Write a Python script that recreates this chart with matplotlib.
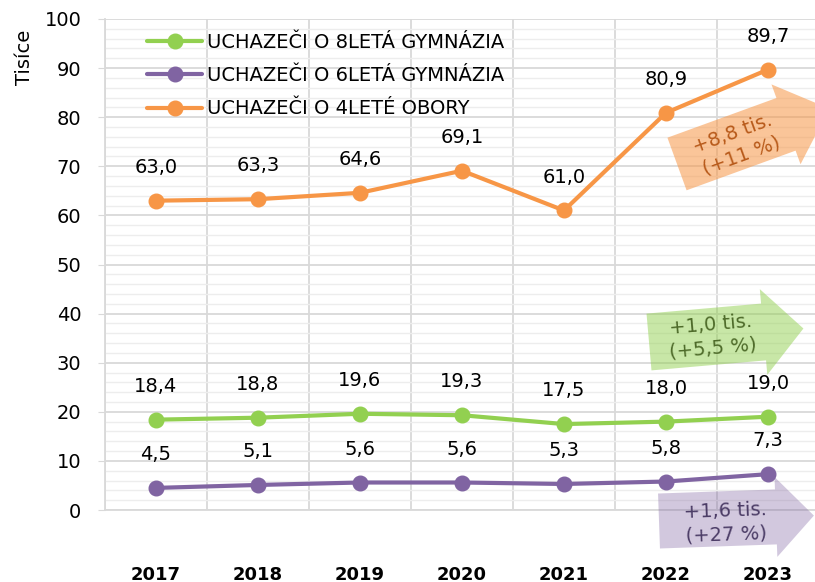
import numpy as np
import matplotlib
matplotlib.use("Agg")
import matplotlib.pyplot as plt
from matplotlib.patches import Polygon

# data (thousands of applicants)
years = ["2017", "2018", "2019", "2020", "2021", "2022", "2023"]
gym8 = [18.4, 18.8, 19.6, 19.3, 17.5, 18.0, 19.0]
gym6 = [4.5, 5.1, 5.6, 5.6, 5.3, 5.8, 7.3]
obory4 = [63.0, 63.3, 64.6, 69.1, 61.0, 80.9, 89.7]
series_names = ["UCHAZEČI O 8LETÁ GYMNÁZIA", "UCHAZEČI O 6LETÁ GYMNÁZIA", "UCHAZEČI O 4LETÉ OBORY"]
arrow_texts = ["+8,8 tis.\n(+11 %)", "+1,0 tis.\n(+5,5 %)", "+1,6 tis.\n(+27 %)"]

W, H = 815, 582
plt.rcParams['font.family'] = ['DejaVu Sans']
fig = plt.figure(figsize=(W / 100, H / 100), dpi=100)
ax = fig.add_axes([105 / W, 1 - 510 / H, 714 / W, 491 / H])

x = np.arange(len(years))
colors = ["#92D050", "#8064A2", "#F79646"]
for vals, c, name in zip([gym8, gym6, obory4], colors, series_names):
    ax.plot(x, vals, color=c, lw=3, marker="o", ms=10.5, label=name, zorder=3,
            solid_capstyle="round")
    for xi, v in zip(x, vals):
        ax.annotate(f"{v:.1f}".replace(".", ","), (xi, v), xytext=(0, 24),
                    textcoords="offset points", ha="center", va="center",
                    fontsize=14, color="black", zorder=4)

ax.set_xlim(-0.5, len(years) - 0.5)
ax.set_ylim(0, 100)
ax.set_yticks(range(0, 101, 10))
ax.set_yticks(range(0, 101, 2), minor=True)
ax.set_xticks(x)
ax.set_xticklabels(years, fontweight="bold", fontsize=13)
ax.set_xticks(np.arange(-0.5, len(years), 1), minor=True)
ax.tick_params(axis="x", which="both", length=0, pad=40)
ax.tick_params(axis="y", which="major", length=5, color="#D9D9D9", pad=12, labelsize=14)
ax.tick_params(axis="y", which="minor", length=0)
ax.grid(True, axis="y", which="major", color="#D9D9D9", lw=1.3, zorder=0)
ax.grid(True, axis="y", which="minor", color="#EDEDED", lw=1.0, zorder=0)
ax.grid(True, axis="x", which="minor", color="#D9D9D9", lw=1.3, zorder=0)
for s in ["top", "right"]:
    ax.spines[s].set_visible(False)
for s in ["left", "bottom"]:
    ax.spines[s].set_color("#D9D9D9")
    ax.spines[s].set_linewidth(1.3)

fig.text(25 / W, 1 - 57 / H, "Tisíce", rotation=90, ha="center", va="center", fontsize=14)

leg = ax.legend(loc="upper left", bbox_to_anchor=(147 / W, 1 - 33 / H),
                bbox_transform=fig.transFigure, frameon=False, fontsize=14,
                handlelength=2.85, handletextpad=0.26, labelspacing=0.73,
                borderaxespad=0, borderpad=0)


def block_arrow(tail, ang, L, w, hw, hl):
    t = np.radians(ang)
    d = np.array([np.cos(t), -np.sin(t)])
    n = np.array([np.sin(t), np.cos(t)])
    tail = np.array(tail, float)
    base = tail + d * (L - hl)
    pts = [tail + n * w / 2, tail - n * w / 2, base - n * w / 2, base - n * hw / 2,
           tail + d * L, base + n * hw / 2, base + n * w / 2]
    return [(p[0] / W, 1 - p[1] / H) for p in pts]


arrows = [
    dict(tail=(677, 164), ang=20, L=162, w=56, hw=85, hl=46, fc="#F79646", a=0.55,
         tc="#B85A1A", txt=(737, 145)),
    dict(tail=(649, 342), ang=5, L=155, w=57, hw=86, hl=40, fc="#92D050", a=0.5,
         tc="#4E6B2A", txt=(712, 337)),
    dict(tail=(659, 521), ang=2, L=155, w=55, hw=80, hl=38, fc="#8064A2", a=0.35,
         tc="#4B3C66", txt=(726, 523)),
]
for a, label in zip(arrows, arrow_texts):
    poly = Polygon(block_arrow(a["tail"], a["ang"], a["L"], a["w"], a["hw"], a["hl"]),
                   closed=True, transform=fig.transFigure, facecolor=a["fc"],
                   alpha=a["a"], edgecolor="none", zorder=5)
    fig.patches.append(poly)
    fig.text(a["txt"][0] / W, 1 - a["txt"][1] / H, label, rotation=a["ang"],
             ha="center", va="center", fontsize=14, color=a["tc"],
             linespacing=1.3, rotation_mode="anchor", zorder=6)

fig.savefig("out.png", dpi=100)
